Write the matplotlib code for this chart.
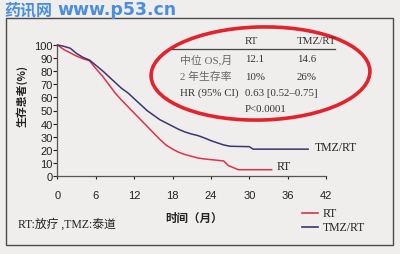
import matplotlib
matplotlib.use("Agg")
import matplotlib.pyplot as plt
from matplotlib.patches import Ellipse, Rectangle
from matplotlib.lines import Line2D

# ---- data ----
tmz_months = [0, 1, 2, 3, 4, 5, 6, 7, 8, 9, 10, 11, 12, 13, 14, 15, 16, 17, 18, 19,
              20, 21, 22, 23, 24, 25, 26, 27, 30, 30.6, 39.2]
tmz_surv = [100, 99, 97.5, 93.5, 90.5, 88.5, 84.5, 80.5, 76, 71.5, 67, 63.5, 59, 54.5, 50,
            46.5, 43, 40.5, 38, 35.5, 33.5, 32, 30.8, 29, 27, 25.3, 23.7, 22.7, 22.4, 20.5, 20.5]
rt_months = [0, 1, 2, 3, 4, 5, 6, 7, 8, 9, 10, 11, 12, 13, 14, 15, 16, 17, 18, 19,
             20, 21, 22, 23, 24, 25, 26, 26.7, 28.3, 33.5]
rt_surv = [100, 96.5, 94, 91.5, 89.5, 88, 82, 76.5, 70, 63.5, 58, 53, 48, 43, 38, 33, 28,
           23.5, 20.5, 18, 16.3, 15, 13.7, 13, 12.5, 12, 11.5, 8, 4.8, 4.8]
x_ticks = [0, 6, 12, 18, 24, 30, 36, 42]
y_ticks = [0, 10, 20, 30, 40, 50, 60, 70, 80, 90, 100]
series_names = ["RT", "TMZ/RT"]
series_colors = ["#e0304e", "#3a3672"]
table_header = ["RT", "TMZ/RT"]
table_rows = ["中位 OS,月", "2 年生存率", "HR (95% CI)", ""]
table_rt = ["12.1", "10%", "0.63 [0.52–0.75]", "P<0.0001"]
table_tmz = ["14.6", "26%", "", ""]

W, H = 400, 255
fig = plt.figure(figsize=(W / 100, H / 100), dpi=100)
fig.patch.set_facecolor("#efeeec")

def fx(px):
    return px / W

def fy(py):
    return 1 - py / H

serif = ["Liberation Serif", "Noto Sans CJK SC"]
sans_cjk = ["Noto Sans CJK SC", "DejaVu Sans"]

# frame
fig.patches.append(Rectangle((fx(6), fy(246)), fx(393) - fx(6), fy(19) - fy(246),
                             transform=fig.transFigure, fill=False,
                             edgecolor="#4a4a4a", lw=1.0))

# watermark
fig.text(fx(4), fy(10), "药讯网", family=["Noto Sans CJK SC"],
         fontsize=11.5, fontweight="bold", color="#4a8ee0", ha="left", va="center")
fig.text(fx(57), fy(10), "www.p53.cn", family=["DejaVu Sans"],
         fontsize=12.5, fontweight="bold", color="#4a8ee0", ha="left", va="center")

ax = fig.add_axes([fx(57.5), fy(177), fx(326) - fx(57.5), fy(46) - fy(177)])
ax.set_facecolor("none")
ax.plot(rt_months, rt_surv, color=series_colors[0], lw=1.1, clip_on=False)
ax.plot(tmz_months, tmz_surv, color=series_colors[1], lw=1.1, clip_on=False)
ax.set_xlim(0, 42)
ax.set_ylim(0, 100)
ax.set_xticks(x_ticks)
ax.set_yticks(y_ticks)
for s in ["top", "right"]:
    ax.spines[s].set_visible(False)
for s in ["left", "bottom"]:
    ax.spines[s].set_color("#555555")
    ax.spines[s].set_linewidth(0.9)
ax.tick_params(axis="y", length=3, width=0.8, pad=0.5, labelsize=8, colors="#222222")
ax.tick_params(axis="x", length=2, width=0.8, pad=8, labelsize=8, colors="#222222")
for lab in ax.get_xticklabels() + ax.get_yticklabels():
    lab.set_family("Liberation Sans")

fig.text(fx(22), fy(96), "生存患者(%)", family=sans_cjk, fontsize=7.8, fontweight="bold",
         color="#222222", rotation=90, ha="center", va="center")

fig.text(fx(194), fy(218), "时间（月）", family=sans_cjk, fontsize=8.3, fontweight="bold",
         color="#222222", ha="center", va="center")
fig.text(fx(18), fy(224), "RT:放疗 ,TMZ:泰道", family=serif, fontsize=8.5,
         color="#222222", ha="left", va="center")

# end-of-curve labels
ax.text(tmz_months[-1] + 1, tmz_surv[-1] + 2, series_names[1], family=serif, fontsize=8.5,
        color="#222222", ha="left", va="center")
ax.text(rt_months[-1] + 0.8, rt_surv[-1] + 2.5, series_names[0], family=serif, fontsize=8.5,
        color="#222222", ha="left", va="center")

# legend
for i, (name, col) in enumerate(zip(series_names, series_colors)):
    yy = fy(214 + 14 * i)
    fig.lines.append(Line2D([fx(302), fx(318)], [yy, yy], transform=fig.transFigure,
                            color=col, lw=1.2))
    fig.text(fx(323), yy, name, family=serif, fontsize=8.5, color="#222222",
             ha="left", va="center")

# table inside ellipse
fig.patches.append(Ellipse((fx(260.5), fy(74.5)), fx(219), fx(93) * W / H,
                           angle=3, transform=fig.transFigure, fill=False,
                           edgecolor="#e3232c", lw=2.6))
fs_t = 7.8
fig.text(fx(245), fy(42), table_header[0], family=serif, fontsize=fs_t,
         color="#333333", ha="left", va="center")
fig.text(fx(297), fy(42), table_header[1], family=serif, fontsize=fs_t,
         color="#333333", ha="left", va="center")
fig.lines.append(Line2D([fx(172), fx(335)], [fy(50), fy(50)], transform=fig.transFigure,
                        color="#444444", lw=0.9))
row_y = [60, 77, 93, 110]
row_colors = ["#666666", "#666666", "#333333", "#333333"]
for lab, v1, v2, yy, rc in zip(table_rows, table_rt, table_tmz, row_y, row_colors):
    fig.text(fx(180), fy(yy), lab, family=serif, fontsize=fs_t, color=rc,
             ha="left", va="center")
    fig.text(fx(245), fy(yy), v1, family=serif, fontsize=fs_t, color="#333333",
             ha="left", va="center")
    fig.text(fx(297), fy(yy), v2, family=serif, fontsize=fs_t, color="#333333",
             ha="left", va="center")

fig.savefig("out.png", dpi=100, facecolor=fig.get_facecolor())
